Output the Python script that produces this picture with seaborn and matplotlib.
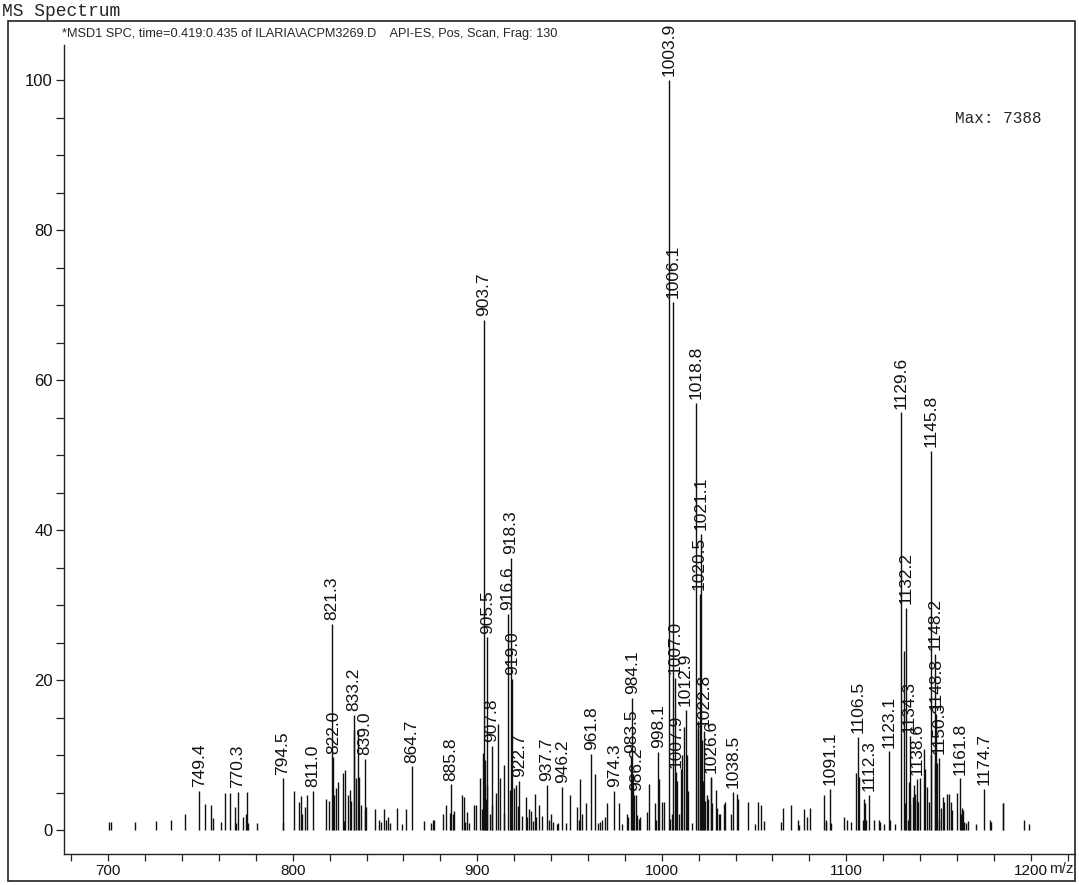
import matplotlib
matplotlib.use("Agg")
import matplotlib.pyplot as plt
import seaborn as sns
import pandas as pd
from matplotlib.patches import Rectangle
from matplotlib.ticker import MultipleLocator

# labelled peaks (m/z, relative abundance %)
label_mz = [749.4, 770.3, 794.5, 811.0, 821.3, 822.0, 833.2, 839.0, 864.7, 885.8,
            903.7, 905.5, 907.8, 916.6, 918.3, 919.0, 922.7, 937.7, 946.2, 961.8,
            974.3, 983.5, 984.1, 986.2, 998.1, 1003.9, 1006.1, 1007.0, 1007.9, 1012.9,
            1018.8, 1020.5, 1021.1, 1022.8, 1026.6, 1038.5, 1091.1, 1106.5, 1112.3, 1123.1,
            1129.6, 1132.2, 1134.3, 1138.6, 1145.8, 1148.2, 1148.8, 1150.3, 1161.8, 1174.7]
label_int = [5.2, 5.1, 6.9, 5.2, 27.5, 9.7, 15.4, 9.5, 8.5, 6.1,
             68.0, 25.7, 11.2, 28.8, 36.3, 20.2, 6.6, 6.0, 5.8, 10.2,
             5.2, 9.8, 17.6, 4.7, 10.4, 100.0, 70.4, 20.3, 7.8, 16.0,
             57.0, 31.5, 39.5, 13.2, 7.1, 5.1, 5.5, 12.4, 4.7, 10.5,
             55.7, 29.6, 12.5, 6.8, 50.6, 23.5, 15.5, 9.6, 6.9, 5.5]

# unlabelled peaks
minor_mz = [700.5, 701.5, 714.6, 725.9, 733.8, 741.8, 752.6, 755.7, 757.0, 761.2,
            763.5, 765.8, 768.7, 769.3, 772.9, 774.7, 775.2, 775.6, 780.7, 794.9,
            800.5, 803.3, 804.2, 804.8, 806.4, 807.5, 817.8, 819.4, 822.5, 823.5,
            824.4, 827.0, 828.4, 827.6, 830.2, 831.0, 831.6, 833.4, 834.3, 835.2,
            836.1, 837.0, 839.4, 839.9, 844.4, 846.9, 847.6, 849.2, 850.6, 851.6,
            852.9, 856.5, 859.4, 861.2, 871.1, 875.1, 875.8, 876.6, 881.5, 883.2,
            885.3, 886.6, 887.6, 891.8, 892.6, 893.6, 894.6, 895.6, 898.5, 899.4,
            901.7, 902.6, 903.0, 904.2, 904.8, 906.8, 905.5, 908.1, 910.0, 911.1,
            912.2, 914.4, 914.7, 917.5, 920.1, 920.8, 922.1, 924.3, 926.3, 927.2,
            928.3, 929.3, 930.2, 931.4, 932.1, 933.3, 935.3, 939.1, 940.2, 941.1,
            943.3, 944.0, 948.2, 950.4, 954.3, 955.1, 955.9, 956.6, 959.2, 963.6,
            965.4, 966.3, 967.4, 969.0, 970.1, 977.1, 978.7, 980.9, 981.6, 984.6,
            985.2, 986.8, 987.5, 988.3, 991.8, 993.0, 996.1, 997.0, 998.6, 1000.4,
            1001.1, 1004.6, 1005.4, 1008.3, 1009.2, 1010.2, 1011.0, 1012.2, 1013.6, 1014.4,
            1016.2, 1019.4, 1019.9, 1021.7, 1022.4, 1023.6, 1024.5, 1025.2, 1026.5, 1027.3,
            1029.2, 1030.0, 1030.8, 1031.6, 1033.7, 1034.4, 1037.7, 1040.9, 1041.4, 1046.7,
            1050.5, 1052.1, 1053.9, 1055.4, 1064.5, 1065.6, 1070.3, 1073.6, 1074.6, 1077.2,
            1079.0, 1080.1, 1087.7, 1088.8, 1089.3, 1092.0, 1098.8, 1100.6, 1102.8, 1105.5,
            1106.9, 1109.1, 1109.6, 1110.1, 1110.5, 1114.8, 1117.5, 1118.3, 1120.6, 1123.6,
            1126.3, 1131.3, 1131.7, 1133.3, 1134.2, 1134.7, 1136.0, 1136.7, 1137.5, 1138.3,
            1139.0, 1140.1, 1141.9, 1142.8, 1143.7, 1144.9, 1145.7, 1147.9, 1149.4, 1150.3,
            1151.2, 1152.5, 1153.0, 1154.5, 1155.5, 1156.7, 1157.6, 1159.9, 1162.0, 1162.8,
            1163.4, 1164.1, 1164.8, 1165.9, 1170.1, 1178.0, 1178.7, 1184.8, 1185.2, 1196.1,
            1198.9]
minor_int = [1.1, 1.1, 1.1, 1.2, 1.3, 2.1, 3.5, 3.3, 1.6, 1.1,
             5.0, 5.0, 3.1, 1.0, 1.7, 2.2, 5.1, 0.9, 0.9, 1.1,
             5.2, 3.7, 4.5, 2.2, 3.1, 4.7, 4.2, 3.9, 4.7, 5.6,
             6.4, 7.6, 8.0, 1.2, 4.7, 5.3, 3.9, 13.4, 6.9, 13.3,
             7.1, 3.3, 2.7, 3.1, 2.8, 1.3, 1.1, 2.8, 1.3, 1.8,
             1.0, 3.0, 0.8, 2.8, 1.2, 0.9, 1.3, 1.3, 2.1, 3.3,
             2.3, 2.1, 2.6, 4.7, 4.4, 1.1, 2.4, 1.0, 3.3, 3.4,
             7.0, 2.8, 10.3, 9.3, 4.2, 2.2, 6.0, 3.3, 4.9, 14.2,
             7.0, 8.7, 2.3, 5.4, 5.6, 6.0, 3.2, 1.9, 4.4, 1.7,
             2.8, 2.5, 1.2, 4.8, 1.8, 3.3, 1.9, 1.3, 2.1, 1.1,
             0.8, 0.9, 1.0, 4.7, 3.1, 1.3, 6.8, 2.2, 3.6, 7.5,
             1.0, 1.1, 1.4, 1.8, 3.6, 3.6, 0.8, 2.1, 1.7, 7.5,
             4.7, 2.0, 1.5, 1.8, 2.4, 6.1, 3.6, 1.3, 6.8, 3.7,
             3.8, 1.5, 2.2, 6.5, 2.2, 8.2, 10.0, 13.8, 10.0, 5.2,
             0.9, 14.5, 13.5, 12.0, 6.5, 3.9, 4.7, 4.1, 7.0, 3.6,
             5.3, 2.9, 2.2, 2.1, 3.5, 3.8, 2.2, 4.8, 4.2, 3.8,
             0.8, 3.7, 3.3, 1.2, 1.1, 3.0, 3.3, 1.3, 0.7, 2.8,
             1.7, 2.9, 4.7, 1.1, 1.3, 1.0, 1.7, 1.3, 1.1, 7.6,
             7.1, 1.3, 4.2, 3.6, 1.4, 1.4, 1.3, 1.1, 0.8, 1.3,
             0.8, 23.9, 3.6, 1.4, 6.4, 3.5, 4.4, 6.0, 4.8, 4.0,
             3.7, 7.0, 10.8, 8.2, 5.8, 3.8, 10.0, 8.9, 9.0, 1.3,
             2.9, 4.4, 3.8, 4.8, 4.8, 3.8, 2.7, 4.9, 2.2, 2.9,
             2.7, 1.1, 0.9, 1.2, 0.8, 1.4, 1.1, 3.6, 3.6, 1.4,
             0.8]

peaks = pd.DataFrame({"mz": label_mz + minor_mz, "abund": label_int + minor_int})

sns.set_style("ticks")
plt.rcParams["font.family"] = ["Liberation Sans", "DejaVu Sans"]

fig = plt.figure(figsize=(10.79, 8.85), dpi=100)
ax = fig.add_axes([64 / 1079, 1 - 854 / 885, (1075 - 64) / 1079, (854 - 45) / 885])

ax.vlines(peaks["mz"], 0, peaks["abund"], color="#111111", linewidth=1.0)

for mz, h in zip(label_mz, label_int):
    ax.text(mz, h + 0.5, f"{mz:.1f}", rotation=90, ha="center", va="bottom",
            fontsize=12.5, color="#111111")

ax.set_xlim(676, 1224)
ax.set_ylim(-3.2, 104.7)
ax.xaxis.set_major_locator(MultipleLocator(100))
ax.xaxis.set_minor_locator(MultipleLocator(20))
ax.yaxis.set_major_locator(MultipleLocator(20))
ax.yaxis.set_minor_locator(MultipleLocator(5))
ax.tick_params(axis="both", which="major", labelsize=12, length=6, width=0.9,
               color="#222222", labelcolor="#111111", pad=2)
ax.tick_params(axis="x", which="major", labelsize=11, length=5)
ax.tick_params(axis="x", which="minor", length=5)
ax.tick_params(axis="both", which="minor", width=0.9, color="#222222")
ax.tick_params(axis="y", which="minor", length=6)
ax.set_xticks([700, 800, 900, 1000, 1100, 1200])
sns.despine(ax=ax)
for s in ["left", "bottom"]:
    ax.spines[s].set_linewidth(1.0)
    ax.spines[s].set_color("#222222")

ax.text(0.999, -0.0095, "m/z", transform=ax.transAxes, ha="right", va="top", fontsize=11)
ax.text(0.967, 0.9095, "Max: 7388", transform=ax.transAxes, ha="right", va="center",
        fontsize=11.5, family="Liberation Mono")

fig.text(62 / 1079, 1 - 34 / 885, "*MSD1 SPC, time=0.419:0.435 of ILARIA\\ACPM3269.D    "
         "API-ES, Pos, Scan, Frag: 130", ha="left", va="center", fontsize=9.2)
fig.text(2 / 1079, 1 - 12 / 885, "MS Spectrum", ha="left", va="center", fontsize=13,
         family="Liberation Mono")

fig.patches.append(Rectangle((8 / 1079, 1 - 881 / 885), (1075 - 8) / 1079, (881 - 21) / 885,
                             transform=fig.transFigure, fill=False, edgecolor="#222222",
                             linewidth=1.2))

fig.savefig("out.png", dpi=100)
